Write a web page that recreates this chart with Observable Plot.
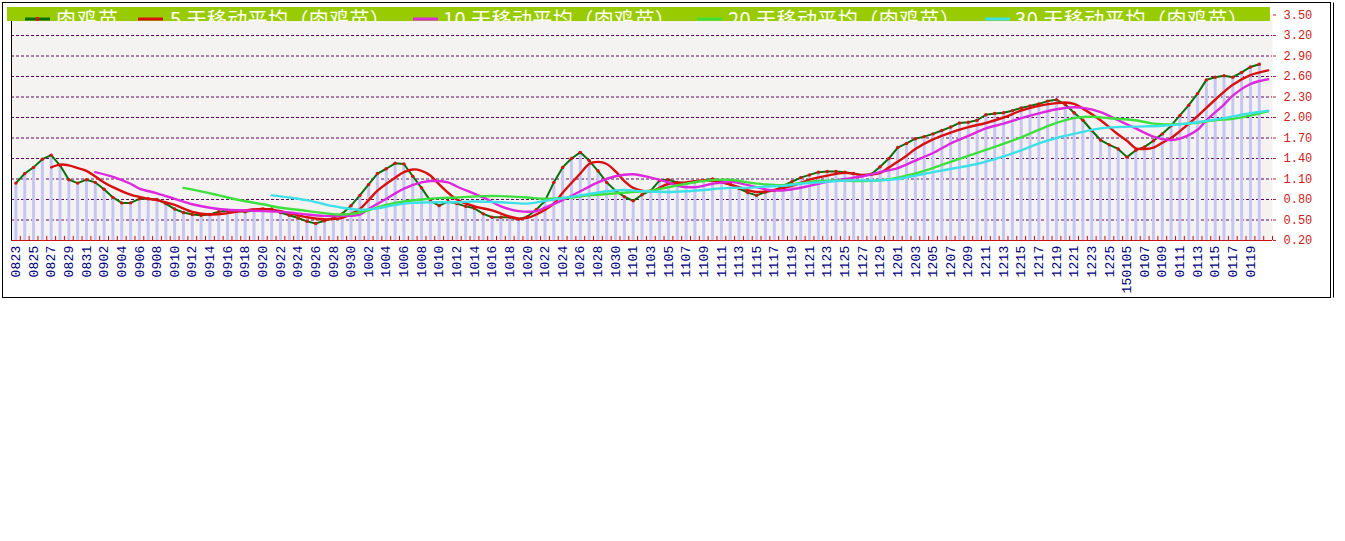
<!DOCTYPE html>
<html><head><meta charset="utf-8">
<script src="https://cdn.jsdelivr.net/npm/d3@7"></script>
<script src="https://cdn.jsdelivr.net/npm/@observablehq/plot@0.6"></script>
<style>
html,body{margin:0;padding:0;background:#fff;}
#chart{width:1345px;height:541px;}
g[aria-label^="x-axis"]{color:#000080;}
g[aria-label^="x-axis"] text{font-family:"Liberation Mono",monospace;font-size:13px;letter-spacing:0.2px;}
g[aria-label^="y-axis"]{color:#cc2020;}
g[aria-label^="y-axis"] text{font-family:"Liberation Mono",monospace;font-size:12px;}
</style></head><body><div id="chart"></div>
<script>
// ---- categories (trading days) ----
const dates = [
"0823","0824","0825","0826","0827","0828","0829","0830","0831",
"0901","0902","0903","0904","0905","0906","0907","0908","0909","0910","0911","0912","0913","0914","0915","0916","0917","0918","0919","0920","0921","0922","0923","0924","0925","0926","0927","0928","0929","0930",
"1001","1002","1003","1004","1005","1006","1007","1008","1009","1010","1011","1012","1013","1014","1015","1016","1017","1018","1019","1020","1021","1022","1023","1024","1025","1026","1027","1028","1029","1030","1031",
"1101","1102","1103","1104","1105","1106","1107","1108","1109","1110","1111","1112","1113","1114","1115","1116","1117","1118","1119","1120","1121","1122","1123","1124","1125","1126","1127","1128","1129","1130",
"1201","1202","1203","1204","1205","1206","1207","1208","1209","1210","1211","1212","1213","1214","1215","1216","1217","1218","1219","1220","1221","1222","1223","1224","1225","1226",
"150105","0106","0107","0108","0109","0110","0111","0112","0113","0114","0115","0116","0117","0118","0119","0120","0121"];

// ---- 肉鸡苗 daily price (one per day from 0823) ----
const raw = [
1.04,1.18,1.27,1.39,1.45,1.30,1.09,1.04,1.09,
1.05,0.95,0.83,0.75,0.75,0.81,0.81,0.80,0.74,0.66,0.61,0.58,0.57,0.58,0.62,0.64,0.63,0.62,0.64,0.66,0.66,0.61,0.57,0.53,0.48,0.45,0.49,0.53,0.59,0.71,
0.86,1.02,1.18,1.25,1.33,1.32,1.14,0.97,0.78,0.71,0.77,0.74,0.70,0.67,0.59,0.54,0.54,0.54,0.51,0.55,0.65,0.78,1.05,1.27,1.40,1.49,1.37,1.22,1.05,0.93,0.84,
0.78,0.87,0.93,1.08,1.09,1.05,1.04,1.06,1.08,1.10,1.07,1.03,0.96,0.90,0.86,0.91,0.93,1.00,1.06,1.12,1.16,1.20,1.21,1.21,1.20,1.18,1.15,1.17,1.28,1.40,
1.56,1.62,1.69,1.72,1.76,1.81,1.86,1.92,1.93,1.96,2.04,2.06,2.07,2.10,2.14,2.17,2.20,2.24,2.26,2.19,2.07,1.96,1.81,1.67,1.60,1.54,
1.42,1.52,1.57,1.66,1.76,1.88,2.03,2.18,2.35,2.55,2.59,2.61,2.59,2.66,2.74,2.78];

// ---- moving averages: [day, value] ----
const ma5 = [["0827",1.27],["0828",1.31],["0829",1.30],["0830",1.26],["0831",1.22],["0902",1.05],["0903",0.98],["0905",0.87],["0907",0.81],["0908",0.79],["0910",0.72],["0912",0.62],["0914",0.58],["0916",0.60],["0918",0.64],["0920",0.66],["0922",0.63],["0923",0.60],["0925",0.54],["0927",0.51],["0929",0.53],["0930",0.59],["1001",0.66],["1002",0.79],["1003",0.93],["1005",1.12],["1006",1.20],["1007",1.24],["1008",1.22],["1009",1.15],["1010",1.02],["1012",0.80],["1014",0.70],["1016",0.64],["1018",0.55],["1019",0.52],["1020",0.53],["1021",0.58],["1023",0.74],["1024",0.90],["1026",1.18],["1027",1.32],["1028",1.35],["1029",1.32],["1030",1.21],["1031",1.07],["1101",0.97],["1103",0.92],["1105",1.03],["1107",1.05],["1109",1.08],["1111",1.05],["1113",0.98],["1115",0.91],["1117",0.94],["1119",1.00],["1121",1.09],["1123",1.15],["1125",1.19],["1127",1.16],["1129",1.19],["1130",1.27],["1202",1.44],["1203",1.54],["1205",1.68],["1207",1.78],["1209",1.86],["1211",1.92],["1213",2.00],["1215",2.10],["1217",2.17],["1219",2.21],["1220",2.22],["1221",2.20],["1222",2.13],["1224",1.96],["1226",1.75],["150105",1.66],["0106",1.55],["0107",1.54],["0108",1.56],["0109",1.63],["0110",1.70],["0111",1.80],["0113",2.02],["0115",2.26],["0117",2.48],["0119",2.62],["0121",2.69]];
const ma10 = [["0901",1.20],["0903",1.13],["0905",1.03],["0906",0.96],["0908",0.89],["0910",0.81],["0912",0.73],["0914",0.68],["0916",0.65],["0918",0.64],["0920",0.63],["0923",0.61],["0925",0.58],["0927",0.56],["0929",0.56],["1001",0.58],["1002",0.66],["1004",0.81],["1006",0.96],["1008",1.05],["1009",1.07],["1011",1.05],["1012",0.99],["1015",0.83],["1017",0.70],["1019",0.63],["1021",0.63],["1022",0.68],["1024",0.79],["1026",0.92],["1028",1.05],["1030",1.14],["1101",1.17],["1103",1.12],["1105",1.05],["1106",1.00],["1108",0.98],["1110",1.03],["1112",1.06],["1113",1.04],["1115",0.98],["1117",0.93],["1119",0.95],["1121",1.00],["1123",1.06],["1125",1.10],["1127",1.14],["1129",1.20],["1201",1.26],["1203",1.37],["1205",1.48],["1207",1.62],["1209",1.73],["1211",1.84],["1213",1.91],["1215",1.99],["1217",2.06],["1219",2.12],["1221",2.15],["1222",2.14],["1224",2.08],["1226",1.96],["0106",1.84],["0108",1.72],["0110",1.67],["0111",1.69],["0113",1.82],["0114",1.96],["0116",2.19],["0117",2.32],["0119",2.49],["0121",2.56]];
const ma20 = [["0911",0.97],["0913",0.92],["0915",0.86],["0917",0.80],["0920",0.73],["0922",0.68],["0924",0.65],["0927",0.60],["0929",0.58],["1001",0.61],["1004",0.72],["1006",0.77],["1008",0.80],["1010",0.82],["1012",0.83],["1015",0.85],["1017",0.85],["1020",0.83],["1022",0.81],["1025",0.83],["1027",0.86],["1029",0.88],["1101",0.91],["1103",0.93],["1105",0.98],["1107",1.03],["1109",1.07],["1112",1.09],["1114",1.05],["1116",1.02],["1118",1.01],["1120",1.04],["1122",1.07],["1124",1.08],["1127",1.07],["1129",1.08],["1201",1.12],["1203",1.18],["1205",1.26],["1207",1.35],["1209",1.44],["1212",1.57],["1215",1.71],["1217",1.82],["1219",1.92],["1221",1.99],["1223",2.01],["1225",1.99],["0106",1.96],["0108",1.91],["0110",1.90],["0112",1.91],["0115",1.96],["0117",1.98],["0119",2.03],["0121",2.09]];
const ma30 = [["0921",0.86],["0923",0.83],["0925",0.79],["0927",0.73],["0929",0.68],["1001",0.65],["1003",0.67],["1005",0.72],["1007",0.75],["1010",0.76],["1012",0.76],["1014",0.77],["1017",0.76],["1020",0.74],["1022",0.78],["1024",0.82],["1027",0.88],["1029",0.92],["1031",0.94],["1102",0.92],["1105",0.91],["1107",0.92],["1109",0.94],["1112",0.97],["1114",0.97],["1116",0.99],["1118",1.00],["1120",1.03],["1122",1.05],["1124",1.07],["1126",1.08],["1129",1.08],["1201",1.10],["1203",1.15],["1205",1.20],["1208",1.27],["1210",1.32],["1212",1.39],["1215",1.52],["1217",1.62],["1219",1.70],["1222",1.79],["1224",1.84],["1226",1.86],["0107",1.87],["0109",1.88],["0111",1.90],["0113",1.93],["0116",1.99],["0118",2.04],["0120",2.08],["0121",2.10]];

// ---- axis ticks and legend text ----
const yTicks = [0.20,0.50,0.80,1.10,1.40,1.70,2.00,2.30,2.60,2.90,3.20,3.50];
const legendLabels = ["肉鸡苗","5 天移动平均（肉鸡苗）","10 天移动平均（肉鸡苗）","20 天移动平均（肉鸡苗）","30 天移动平均（肉鸡苗）"];
const seriesColors = ["#0a6e0a","#d81010","#dd28dd","#3ee03e","#3ee0e8"];

// ---- layout ----
const W = 1345, H = 300, mL = 11, mR = 73, mT = 14.5, mB = 60;
const step = (W - mL - mR) / dates.length;
const legendLayout = {swatchX:[25,138,413,697,985], textX:[56,170,443,728,1015], textW:[62,220,232,232,233]};

const rawData = raw.map((v, i) => ({date: dates[i], value: v}));
const toObj = arr => arr.map(([date, value]) => ({date, value}));
const tickDates = dates.filter((d, i) => i % 2 === 0 && d !== "0121");
const gridTicks = yTicks.filter(v => v > 0.2 && v < 3.5);

const maLine = (arr, color) => Plot.line(toObj(arr), {x: "date", y: "value", stroke: color, strokeWidth: 2.4, curve: "catmull-rom"});

const plot = Plot.plot({
  width: W, height: H,
  marginLeft: mL, marginRight: mR, marginTop: mT, marginBottom: mB,
  style: {background: "transparent", fontFamily: "Liberation Mono", fontSize: "12px", overflow: "visible"},
  x: {type: "point", domain: dates, padding: 0.5, ticks: tickDates, tickRotate: -90, tickSize: 0, tickPadding: 5, label: null},
  y: {domain: [0.2, 3.5], axis: "right", ticks: yTicks, tickFormat: d => d.toFixed(2), tickSize: 3, tickPadding: 8, label: null},
  marks: [
    Plot.frame({fill: "#f5f2f2", stroke: "none"}),
    Plot.ruleY(gridTicks, {stroke: "#5a0a5a", strokeDasharray: "3,2", strokeWidth: 1}),
    Plot.ruleX(rawData, {x: "date", y1: 0.2, y2: "value", stroke: "#c6c6f2", strokeWidth: 3}),
    Plot.ruleY([0.2], {stroke: "#cc1010"}),
    Plot.ruleX(dates, {x: d => d, y1: 0.2, y2: 0.26, dx: -step / 2, stroke: "#cc1010"}),
    Plot.ruleX([dates[dates.length - 1]], {x: d => d, y1: 0.2, y2: 0.26, dx: step / 2, stroke: "#cc1010"}),
    Plot.line(rawData, {x: "date", y: "value", stroke: seriesColors[0], strokeWidth: 2}),
    Plot.dot(rawData, {x: "date", y: "value", r: 1.7, fill: "#dd1010"}),
    maLine(ma5, seriesColors[1]),
    maLine(ma10, seriesColors[2]),
    maLine(ma20, seriesColors[3]),
    maLine(ma30, seriesColors[4])
  ]
});

const svg = d3.select(plot);
// left axis line
svg.append("line").attr("x1", mL + 0.5).attr("x2", mL + 0.5).attr("y1", 21).attr("y2", H - mB).attr("stroke", "#000");
// outer frame
svg.append("rect").attr("x", 2.5).attr("y", 2.5).attr("width", 1328).attr("height", 295).attr("fill", "none").attr("stroke", "#000");
svg.append("line").attr("x1", 1333.5).attr("x2", 1333.5).attr("y1", 2.5).attr("y2", 297.5).attr("stroke", "#000");
// legend bar
const defs = svg.append("defs");
defs.append("clipPath").attr("id", "legclip").append("rect").attr("x", 7).attr("y", 7).attr("width", 1263).attr("height", 14);
const lg = svg.append("g").attr("text-anchor", "start");
lg.append("rect").attr("x", 7).attr("y", 7).attr("width", 1263).attr("height", 14).attr("fill", "#99cc00");
legendLabels.forEach((lab, i) => {
  const sx = legendLayout.swatchX[i];
  lg.append("line").attr("x1", sx).attr("x2", sx + 25).attr("y1", 19).attr("y2", 19)
    .attr("stroke", seriesColors[i]).attr("stroke-width", 3);
  if (i === 0) lg.append("rect").attr("x", sx + 11).attr("y", 17).attr("width", 3).attr("height", 4).attr("fill", "#dd1010");
  lg.append("text").attr("x", legendLayout.textX[i]).attr("y", 26.5)
    .attr("text-anchor", "start")
    .attr("clip-path", "url(#legclip)")
    .attr("fill", "#fff").attr("font-family", "'Noto Sans CJK SC'").attr("font-size", 20)
    .attr("textLength", legendLayout.textW[i]).attr("lengthAdjust", "spacing")
    .text(lab);
});
document.getElementById("chart").appendChild(plot);
</script></body></html>
